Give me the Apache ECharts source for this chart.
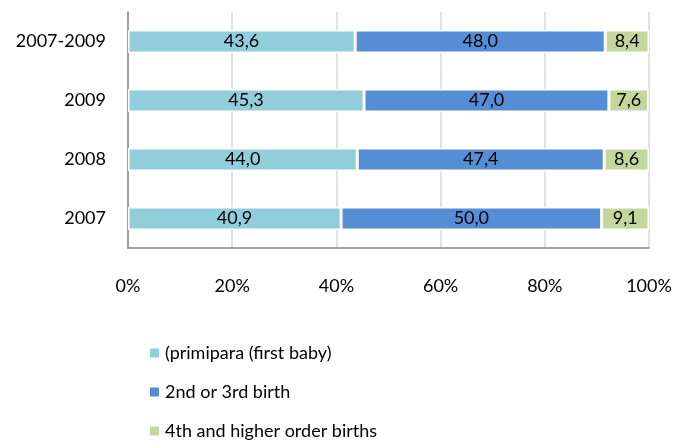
<!DOCTYPE html>
<html><head><meta charset="utf-8">
<script src="https://cdn.jsdelivr.net/npm/echarts@6/dist/echarts.min.js"></script>
<style>html,body{margin:0;padding:0;background:#fff}#c{width:675px;height:448px}</style>
</head><body><div id="c"></div>
<script>
const categories = ['2007', '2008', '2009', '2007-2009'];
const seriesNames = ['(primipara (first baby)', '2nd or 3rd birth', '4th and higher order births'];
const primipara = [40.9, 44.0, 45.3, 43.6];
const secondThird = [50.0, 47.4, 47.0, 48.0];
const fourthPlus = [9.1, 8.6, 7.6, 8.4];
const xTicks = [0, 20, 40, 60, 80, 100];
const colors = ['#92CDDC', '#558ED5', '#C3D69B'];
const FONT = 'Lato';

const chart = echarts.init(document.getElementById('c'), null, {renderer: 'canvas'});
const mk = (name, data, color) => ({
  name, type: 'bar', stack: 'total', data, barWidth: 23,
  itemStyle: {color, borderColor: '#fff', borderWidth: 1.5},
  label: {show: true, position: 'inside', color: '#000', fontFamily: FONT, fontSize: 18,
    formatter: p => p.value.toFixed(1).replace('.', ',')},
  emphasis: {disabled: true}
});
chart.setOption({
  animation: false,
  textStyle: {fontFamily: FONT},
  grid: {left: 128, right: 26, top: 12, bottom: 200, containLabel: false},
  xAxis: {
    type: 'value', min: xTicks[0], max: xTicks[xTicks.length - 1], interval: 20,
    axisLabel: {formatter: v => v + '%', color: '#000', fontSize: 18, fontFamily: FONT, margin: 29},
    axisLine: {show: true, lineStyle: {color: '#868686', width: 1.5}},
    axisTick: {show: false},
    splitLine: {show: true, lineStyle: {color: '#D9D9D9', width: 1.5}}
  },
  yAxis: {
    type: 'category', data: categories,
    axisLabel: {color: '#000', fontSize: 18, fontFamily: FONT, margin: 22},
    axisLine: {show: true, lineStyle: {color: '#868686', width: 1.5}},
    axisTick: {show: false}
  },
  legend: {
    orient: 'vertical', left: 143, top: 339, itemWidth: 11, itemHeight: 11, itemGap: 21,
    icon: 'rect', textStyle: {color: '#000', fontSize: 18, fontFamily: FONT}, data: seriesNames
  },
  series: [
    mk(seriesNames[0], primipara, colors[0]),
    mk(seriesNames[1], secondThird, colors[1]),
    mk(seriesNames[2], fourthPlus, colors[2])
  ]
});
</script></body></html>
